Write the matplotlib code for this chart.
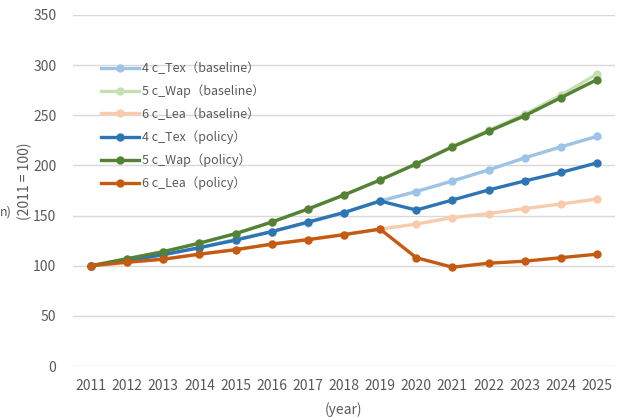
import matplotlib.pyplot as plt

plt.rcParams['font.family'] = ['Noto Sans CJK SC', 'DejaVu Sans']

years = list(range(2011, 2026))

tex_baseline = [100, 105, 111, 118, 126, 134, 143, 153, 164.5, 174, 184.5, 195.5, 207.5, 218.5, 229]
wap_baseline = [100, 107, 114, 122.5, 132, 143.5, 156.5, 170.5, 185.5, 201.5, 219, 235, 251, 270, 291]
lea_baseline = [100, 103.5, 106.5, 111.5, 116, 121.5, 126, 131, 136.5, 141.5, 148, 152, 157, 161.5, 166.5]
tex_policy = [100, 105, 111, 118, 125.5, 134, 143.5, 153, 164.5, 155.5, 165.5, 175.5, 184.5, 193, 202.5]
wap_policy = [100, 107, 114, 122.5, 132, 143.5, 156.5, 170.5, 185.5, 201.5, 218.5, 234, 249.5, 267.5, 285.5]
lea_policy = [100, 103.5, 106.5, 111.5, 116, 121.5, 126, 131, 136.5, 108, 98.5, 102.5, 104.5, 108, 111.5]

series = [
    ("4 c_Tex（baseline）", tex_baseline, "#9DC3E6"),
    ("5 c_Wap（baseline）", wap_baseline, "#C5E0B4"),
    ("6 c_Lea（baseline）", lea_baseline, "#F8CBAD"),
    ("4 c_Tex（policy）", tex_policy, "#2E75B6"),
    ("5 c_Wap（policy）", wap_policy, "#548235"),
    ("6 c_Lea（policy）", lea_policy, "#C55A11"),
]

fig = plt.figure(figsize=(6.23, 4.18), dpi=100)
ax = fig.add_axes([73 / 623, 1 - 366 / 418, 542 / 623, 351 / 418])

for label, values, color in series:
    ax.plot(years, values, color=color, linewidth=2.4, marker="o",
            markersize=5, label=label)

ax.set_xlim(2010.5, 2025.5)
ax.set_ylim(0, 350)
ax.set_yticks(range(0, 351, 50))
ax.set_xticks(years)
ax.tick_params(length=0, labelsize=10, colors="#595959")
ax.tick_params(axis="x", pad=9)
ax.tick_params(axis="y", pad=12)
ax.grid(axis="y", color="#D9D9D9", linewidth=1)
ax.set_axisbelow(True)
for s in ax.spines.values():
    s.set_visible(False)

ax.set_xlabel("(year)", fontsize=10, color="#595959", labelpad=7)
ax.set_ylabel("(2011 = 100)", fontsize=10, color="#595959")
ax.yaxis.set_label_coords(-0.075, 0.525)
# only the tail of the unit label is visible in the reference
fig.text(0, 1 - 212 / 418, "n)", ha="left", va="center",
         fontsize=9, color="#595959")

ax.legend(loc="upper left", bbox_to_anchor=(0.03, 0.897), frameon=False,
          fontsize=9, handlelength=3.1, handletextpad=0.2,
          labelspacing=0.75, labelcolor="#595959")

fig.savefig("out.png", dpi=100)
